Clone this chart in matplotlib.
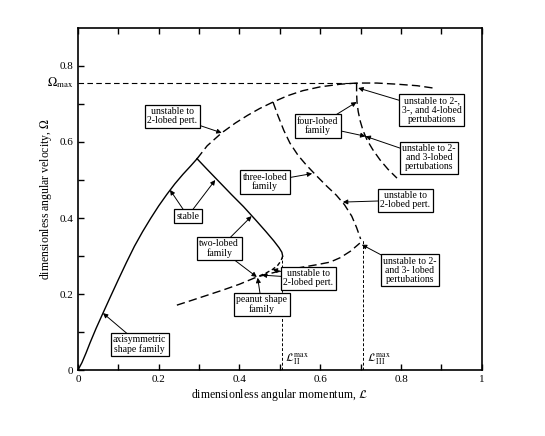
import matplotlib
matplotlib.use("Agg")
import matplotlib.pyplot as plt

plt.rcParams['font.family'] = ['Liberation Serif', 'DejaVu Serif']
plt.rcParams['mathtext.fontset'] = 'stix'

# axisymmetric shape family (solid, stable)
axi_L = [0.0, 0.01, 0.02, 0.03, 0.045, 0.062, 0.08, 0.1, 0.12, 0.14, 0.16, 0.18,
         0.2, 0.22, 0.24, 0.26, 0.28, 0.295]
axi_W = [0.0, 0.02, 0.045, 0.072, 0.11, 0.15, 0.192, 0.238, 0.283, 0.326, 0.364, 0.399,
         0.432, 0.462, 0.49, 0.515, 0.538, 0.556]

# axisymmetric continuation, unstable to 2-lobed pert.
axi_u_L = [0.295, 0.32, 0.356, 0.39, 0.42, 0.45, 0.483, 0.52, 0.557, 0.6, 0.65, 0.69,
           0.74, 0.79, 0.84, 0.879]
axi_u_W = [0.556, 0.59, 0.624, 0.65, 0.67, 0.688, 0.705, 0.722, 0.735, 0.745, 0.752, 0.755,
           0.755, 0.752, 0.748, 0.742]

# two-lobed family (solid)
two_L = [0.295, 0.32, 0.35, 0.38, 0.41, 0.44, 0.465, 0.485, 0.498, 0.505, 0.507]
two_W = [0.556, 0.528, 0.495, 0.462, 0.43, 0.395, 0.365, 0.34, 0.322, 0.31, 0.30]

# two-lobed family turning back (dashed)
two_b_L = [0.507, 0.503, 0.495, 0.482, 0.465, 0.443]
two_b_W = [0.30, 0.288, 0.276, 0.265, 0.255, 0.245]

# peanut shape family (dashed)
pea_L = [0.245, 0.28, 0.32, 0.36, 0.40, 0.443, 0.49, 0.54, 0.59, 0.624, 0.65, 0.675, 0.698]
pea_W = [0.171, 0.183, 0.197, 0.211, 0.226, 0.245, 0.258, 0.268, 0.277, 0.284, 0.296, 0.313, 0.334]

# three-lobed family (dashed)
thr_L = [0.483, 0.495, 0.51, 0.525, 0.545, 0.565, 0.59, 0.615, 0.64, 0.66, 0.678, 0.69, 0.70]
thr_W = [0.705, 0.67, 0.63, 0.597, 0.565, 0.54, 0.512, 0.485, 0.46, 0.435, 0.405, 0.375, 0.345]

# four-lobed family (dashed)
four_L = [0.69, 0.69, 0.691, 0.694, 0.699, 0.706, 0.716, 0.73, 0.748, 0.768, 0.79]
four_W = [0.755, 0.73, 0.705, 0.68, 0.655, 0.63, 0.605, 0.58, 0.553, 0.528, 0.505]

omega_max = 0.756
L_II_max = 0.505
L_III_max = 0.705

# annotations: text, box centre, arrow tips
notes = [
    ("unstable to\n2-lobed pert.", (0.233, 0.668), [(0.356, 0.624)]),
    ("stable", (0.272, 0.405), [(0.228, 0.474), (0.34, 0.50)]),
    ("two-lobed\nfamily", (0.35, 0.32), [(0.43, 0.405), (0.443, 0.245)]),
    ("peanut shape\nfamily", (0.455, 0.173), [(0.445, 0.243)]),
    ("unstable to\n2-lobed pert.", (0.57, 0.242), [(0.455, 0.25), (0.482, 0.265)]),
    ("axisymmetric\nshape family", (0.153, 0.068), [(0.062, 0.15)]),
    ("three-lobed\nfamily", (0.463, 0.495), [(0.58, 0.517)]),
    ("four-lobed\nfamily", (0.594, 0.642), [(0.69, 0.705), (0.712, 0.615)]),
    ("unstable to 2-,\n3-, and 4-lobed\npertubations", (0.876, 0.684), [(0.694, 0.742)]),
    ("unstable to 2-\nand 3-lobed\npertubations", (0.869, 0.558), [(0.712, 0.615)]),
    ("unstable to\n2-lobed pert.", (0.81, 0.447), [(0.656, 0.442)]),
    ("unstable to 2-\nand 3- lobed\npertubations", (0.822, 0.263), [(0.703, 0.33)]),
]

fig = plt.figure(figsize=(5.45, 4.36), dpi=100)
ax = fig.add_axes([0.143, 0.151, 0.741, 0.785])

dash = (0, (6, 3))
ax.plot(axi_L, axi_W, color='black', lw=1.0)
ax.plot(axi_u_L, axi_u_W, color='black', lw=1.0, linestyle=dash)
ax.plot(two_L, two_W, color='black', lw=1.0)
ax.plot(two_b_L, two_b_W, color='black', lw=1.0, linestyle=(0, (3, 2)))
ax.plot(pea_L, pea_W, color='black', lw=1.0, linestyle=dash)
ax.plot(thr_L, thr_W, color='black', lw=1.0, linestyle=dash)
ax.plot(four_L, four_W, color='black', lw=1.0, linestyle=dash)

# omega max line and L max verticals
ax.plot([0, four_L[0]], [omega_max, omega_max], color='black', lw=0.8, linestyle=(0, (5, 3)))
ax.plot([L_II_max, L_II_max], [0, two_W[-1]], color='black', lw=0.7, linestyle=(0, (3, 2)))
ax.plot([L_III_max, L_III_max], [0, thr_W[-1]], color='black', lw=0.7, linestyle=(0, (3, 2)))

for txt, (bx, by), tips in notes:
    for tx, ty in tips:
        ax.annotate("", xy=(tx, ty), xytext=(bx, by), zorder=4,
                    arrowprops=dict(arrowstyle='-|>', lw=0.7, color='black',
                                    mutation_scale=7, shrinkA=0, shrinkB=0))
    ax.text(bx, by, txt, fontsize=7, ha='center', va='center', linespacing=1.0,
            bbox=dict(boxstyle='square,pad=0.25', fc='white', ec='black', lw=0.9),
            zorder=5)

ax.text(L_II_max + 0.008, 0.012, r"$\mathcal{L}^{\,\max}_{\,\rm II}$", fontsize=8, va='bottom')
ax.text(L_III_max + 0.01, 0.012, r"$\mathcal{L}^{\,\max}_{\,\rm III}$", fontsize=8, va='bottom')
ax.text(-0.012, omega_max, r"$\mathit{\Omega}_{\rm max}$", fontsize=9, ha='right', va='center')

ax.set_xlim(0, 1)
ax.set_ylim(0, 0.9)
ax.set_xticks([0, 0.2, 0.4, 0.6, 0.8, 1.0])
ax.set_xticklabels(["0", "0.2", "0.4", "0.6", "0.8", "1"])
ax.set_yticks([0, 0.2, 0.4, 0.6, 0.8])
ax.set_yticklabels(["0", "0.2", "0.4", "0.6", "0.8"])
ax.set_xticks([0.1, 0.3, 0.5, 0.7, 0.9], minor=True)
ax.set_yticks([0.1, 0.3, 0.5, 0.7], minor=True)
ax.tick_params(which='both', direction='in', top=True, right=False, length=4, width=1, labelsize=8)
for s in ax.spines.values():
    s.set_linewidth(1.2)

ax.set_xlabel(r"dimensionless angular momentum, $\mathcal{L}$", fontsize=8.5, labelpad=2)
ax.set_ylabel(r"dimensionless angular velocity, $\mathit{\Omega}$", fontsize=8.5)

fig.savefig("out.png", dpi=100)
